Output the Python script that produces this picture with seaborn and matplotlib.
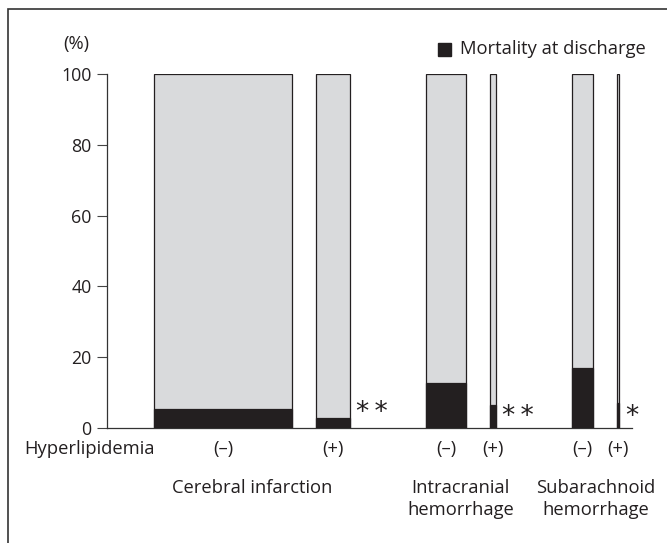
import numpy as np
import matplotlib
matplotlib.use("Agg")
import matplotlib.pyplot as plt
import seaborn as sns
from matplotlib.patches import Rectangle

# -------------------------------
# Data
# -------------------------------
groups = ["Cerebral infarction", "Intracranial\nhemorrhage", "Subarachnoid\nhemorrhage"]
hyper_labels = ["(\u2013)", "(+)"]
# relative group sizes (bar widths), (-) and (+) per group
rel_size = [[138, 34], [40, 6], [21, 2.5]]
# mortality at discharge (%)
mortality = [[5.5, 2.9], [12.6, 6.4], [17.0, 7.0]]
signif = ["**", "**", "*"]

LIGHT = "#d9dadc"
DARK = "#231f20"
TXT = "#231f20"
FS = 13.2

sns.set_style("ticks")
plt.rcParams["font.family"] = ["Open Sans", "DejaVu Sans"]

W, H = 667, 543
fig = plt.figure(figsize=(W / 100, H / 100), dpi=100)
ax = fig.add_axes([107 / W, (H - 428) / H, (632 - 107) / W, 354 / H])

# -------------------------------
# Layout: gaps between bars (in width units)
# -------------------------------
first_left = 47
inner_gap = 23.5
outer_gap = 76.5

x = first_left
for g, name in enumerate(groups):
    g_start = x
    for k in range(2):
        w = rel_size[g][k]
        ax.bar(x, 100, width=w, align="edge", color=LIGHT,
               edgecolor=DARK, linewidth=0.9, zorder=2)
        ax.bar(x, mortality[g][k], width=w, align="edge", color=DARK,
               edgecolor=DARK, linewidth=0.9, zorder=3)
        ax.text(x + w / 2, -6.0, hyper_labels[k], ha="center", va="center",
                fontsize=FS, color=TXT)
        x += w
        if k == 0:
            x += inner_gap
    g_end = x
    # significance marks
    ax.text(g_end + 6, 4.3 if g == 0 else 3.0, "\u2009".join(signif[g]),
            ha="left", va="center", fontsize=19, color=TXT,
            family="DejaVu Sans")
    ax.text((g_start + g_end) / 2, -14.4, name, ha="center", va="top",
            fontsize=FS, color=TXT, linespacing=1.3)
    x += outer_gap

ax.set_xlim(0, 525)
ax.set_ylim(0, 100)
ax.set_yticks([0, 20, 40, 60, 80, 100])
ax.set_xticks([])
ax.tick_params(axis="y", length=7, width=0.8, color="#444444",
               labelsize=12.8, pad=4, labelcolor=TXT)
sns.despine(ax=ax, top=True, right=True)
for s in ["left", "bottom"]:
    ax.spines[s].set_linewidth(0.9)
    ax.spines[s].set_color("#333333")
ax.set_facecolor("white")

ax.text(-17, -6.0, "Hyperlipidemia", ha="center", va="center", fontsize=FS,
        color=TXT, clip_on=False)
ax.text(-31, 108.5, "(%)", ha="center", va="center", fontsize=FS,
        color=TXT)

# legend
fig.patches.append(Rectangle((438 / W, 1 - 56 / H), 13 / W, 13 / H,
                             transform=fig.transFigure, color=DARK))
fig.text(460 / W, 1 - 49 / H, "Mortality at discharge", ha="left",
         va="center", fontsize=FS, color=TXT)

# outer frame
fig.patches.append(Rectangle((8 / W, -0.05), 1.0, 1 - 9 / H + 0.05,
                             transform=fig.transFigure, fill=False,
                             edgecolor="#333333", linewidth=1.2))

fig.savefig("out.png", dpi=100)
